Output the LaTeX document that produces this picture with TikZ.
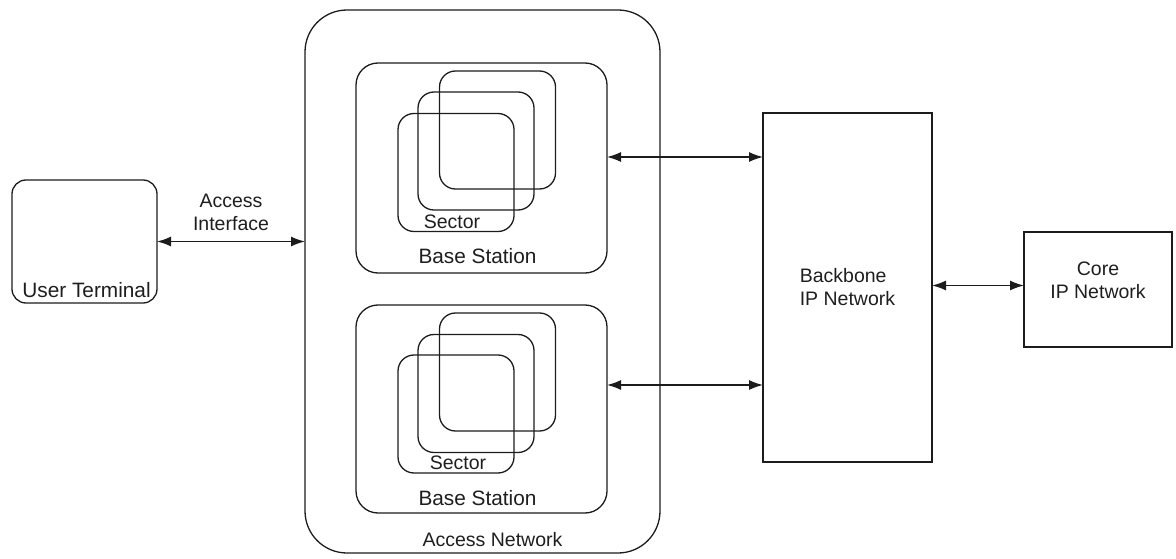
\documentclass[tikz,border=0pt]{standalone}
\usepackage{fontspec}
\setmainfont{Liberation Sans}
\usepackage{xcolor}
\usepackage{tikz}
\usetikzlibrary{arrows.meta}
\definecolor{NETline}{HTML}{1C1C1C}
\definecolor{NETtext}{HTML}{1E1E1E}
\tikzset{
  netbox/.style={draw=NETline, line width=1.3pt, inner sep=0pt, outer sep=0pt, align=center, text=NETtext},
  roundbox/.style={netbox, rounded corners=14pt},
  stationbox/.style={netbox, rounded corners=22pt, minimum width=251pt, minimum height=210pt},
  sectorbox/.style={netbox, rounded corners=16pt, minimum width=116pt, minimum height=118pt},
  netlabel/.style={inner sep=1pt, align=center, text=NETtext},
  biglabel/.style={netlabel, font=\fontsize{20.8}{24}\selectfont},
  linkarr/.style={{Latex[length=14pt,width=10pt]}-{Latex[length=14pt,width=10pt]}, line width=1.3pt, draw=NETline}
}

\begin{document}
\begin{tikzpicture}[x=1pt, y=-1pt, font=\fontsize{19.5}{23}\selectfont]
\useasboundingbox (0,0) rectangle (1176,559);
\node[roundbox, minimum width=145pt, minimum height=123pt] (ut) at (84.5,241.5) {};
\node[biglabel, anchor=south] (utl) at ([xshift=2pt,yshift=4pt]ut.south) {User Terminal};
\node[netbox, rounded corners=42pt, minimum width=355pt, minimum height=543pt] (an) at (482.5,281.5) {};
\node[netlabel, anchor=south] (anl) at ([xshift=10pt,yshift=5pt]an.south) {Access Network};
\node[stationbox] (bst) at (481.5,168) {};
\node[stationbox, minimum height=208pt] (bsb) at (481.5,409) {};
\node[sectorbox] (sta) at (497.5,130) {};
\node[sectorbox] (stb) at (476,151) {};
\node[sectorbox] (stc) at (456,172.5) {};
\node[sectorbox] (sba) at (497.5,372) {};
\node[sectorbox] (sbb) at (476,393.5) {};
\node[sectorbox] (sbc) at (456,414) {};
\node[netlabel, anchor=south] (stl) at ([xshift=-4pt,yshift=2pt]stc.south) {Sector};
\node[netlabel, anchor=south] (sbl) at ([xshift=2pt,yshift=2pt]sbc.south) {Sector};
\node[biglabel, anchor=south] (bstl) at ([xshift=-4pt,yshift=8pt]bst.south) {Base Station};
\node[biglabel, anchor=south] (bsbl) at ([xshift=-4pt,yshift=6pt]bsb.south) {Base Station};
\node[netbox, align=left, minimum width=169pt, minimum height=349pt] (bb) at (847.5,287.5) {Backbone\\IP Network};
\node[netbox, minimum width=148pt, minimum height=115pt] (core) at (1098,289.5) {};
\node[netlabel] (corel) at ([yshift=9pt]core.center) {Core\\IP Network};
\draw[linkarr] (ut.east) -- (ut.east -| an.west) node[midway, above=9pt, netlabel] (ail) {Access\\Interface};
\draw[linkarr] ([yshift=11pt]bst.east) -- ([yshift=11pt]bst.east -| bb.west);
\draw[linkarr] ([yshift=24pt]bsb.east) -- ([yshift=24pt]bsb.east -| bb.west);
\draw[linkarr] ([yshift=4pt]core.west -| bb.east) -- ([yshift=4pt]core.west);
\end{tikzpicture}
\end{document}
